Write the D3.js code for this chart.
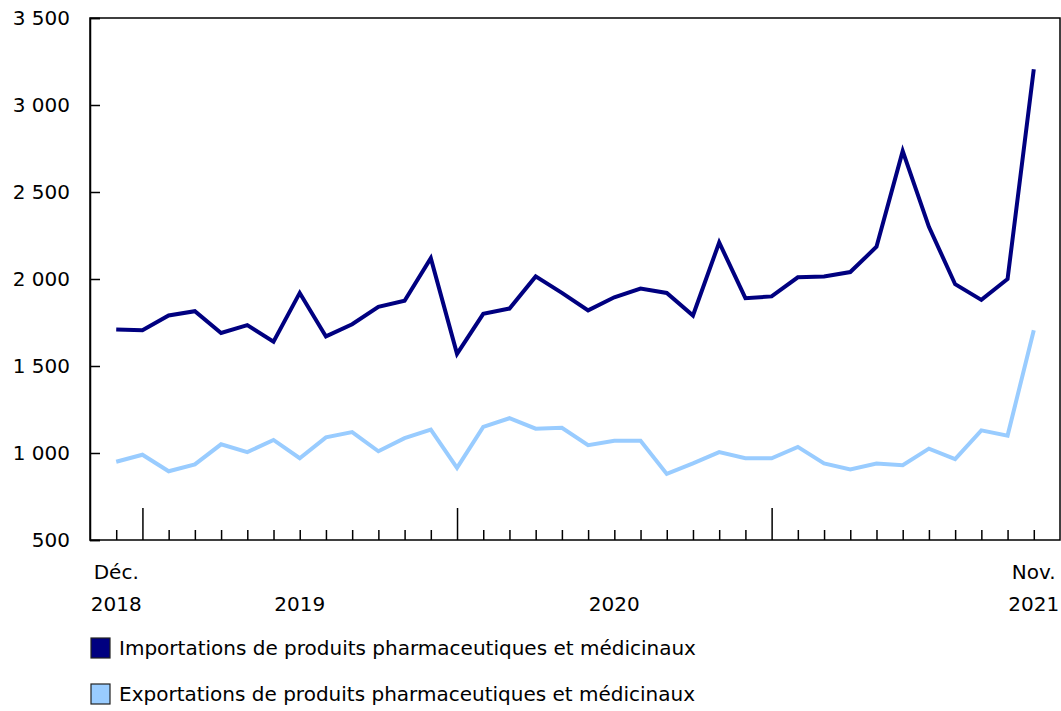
<!DOCTYPE html>
<html>
<head>
<meta charset="utf-8">
<script src="https://cdn.jsdelivr.net/npm/d3@7"></script>
<style>
	body { margin: 0; background: #fff; }
	text { font-family: "DejaVu Sans", Verdana, sans-serif; fill: #000; }
</style>
</head>
<body>
<div id="visHolder"></div>
<script>
const months = [
	"2018-12", "2019-01", "2019-02", "2019-03", "2019-04", "2019-05", "2019-06",
	"2019-07", "2019-08", "2019-09", "2019-10", "2019-11", "2019-12",
	"2020-01", "2020-02", "2020-03", "2020-04", "2020-05", "2020-06",
	"2020-07", "2020-08", "2020-09", "2020-10", "2020-11", "2020-12",
	"2021-01", "2021-02", "2021-03", "2021-04", "2021-05", "2021-06",
	"2021-07", "2021-08", "2021-09", "2021-10", "2021-11",
];
const imports = [
	1710, 1705, 1790, 1815, 1690, 1735, 1640, 1920, 1670, 1740, 1840, 1875, 2120,
	1570, 1800, 1830, 2015, 1920, 1820, 1895, 1945, 1920, 1790, 2210, 1890,
	1900, 2010, 2015, 2040, 2185, 2735, 2300, 1970, 1880, 2000, 3205,
];
const exports = [
	950, 990, 895, 935, 1050, 1005, 1075, 970, 1090, 1120, 1010, 1085, 1135,
	915, 1150, 1200, 1140, 1145, 1045, 1070, 1070, 880, 940, 1005, 970,
	970, 1035, 940, 905, 940, 930, 1025, 965, 1130, 1100, 1705,
];
const yTicks = [500, 1000, 1500, 2000, 2500, 3000, 3500];
const seriesNames = [
	"Importations de produits pharmaceutiques et médicinaux",
	"Exportations de produits pharmaceutiques et médicinaux",
];
const seriesColors = ["#000080", "#99ccff"];
// label rows under the x axis, centred between two months
const xLabels = [
	{ lines: ["Déc.", "2018"], from: "2018-12", to: "2018-12" },
	{ lines: ["", "2019"], from: "2019-01", to: "2020-01" },
	{ lines: ["", "2020"], from: "2020-01", to: "2021-01" },
	{ lines: ["Nov.", "2021"], from: "2021-11", to: "2021-11" },
];

const options = {
	width: 1061,
	height: 711,
	plot: { left: 90, top: 18, right: 1060, bottom: 540 },
	fontSize: 20,
	lineWidth: 4,
};

LineChart(options);

function LineChart({ width, height, plot, fontSize, lineWidth }) {
	//create svg
	const svg = d3
		.select("#visHolder")
		.append("svg")
		.attr("width", width)
		.attr("height", height)
		.style("font-size", `${fontSize}px`);

	//scales
	const x = d3.scalePoint().domain(months).range([plot.left, plot.right]).padding(1);
	const y = d3.scaleLinear().domain([500, 3500]).range([plot.bottom, plot.top]);

	//frame
	svg
		.append("rect")
		.attr("x", plot.left)
		.attr("y", plot.top)
		.attr("width", plot.right - plot.left)
		.attr("height", plot.bottom - plot.top)
		.attr("fill", "none")
		.attr("stroke", "#000")
		.attr("stroke-width", 1.5);

	//y axis
	const yAxis = svg
		.append("g")
		.attr("transform", `translate(${plot.left},0)`)
		.call(d3.axisRight(y).tickValues(yTicks).tickSize(10).tickFormat((d) => d3.format(",")(d).replace(",", " ")));
	yAxis.select(".domain").attr("stroke-width", 1.5);
	yAxis.selectAll(".tick line").attr("stroke-width", 1.5);
	yAxis
		.selectAll(".tick text")
		.attr("x", -20)
		.attr("text-anchor", "end")
		.attr("font-size", fontSize)
		.attr("font-family", null);

	//x axis ticks (major on January)
	const xAxis = svg
		.append("g")
		.attr("transform", `translate(0,${plot.bottom})`)
		.call(d3.axisTop(x).tickSize(10).tickFormat(""));
	xAxis.select(".domain").remove();
	xAxis
		.selectAll(".tick line")
		.attr("stroke-width", 1.5)
		.attr("y2", (d) => (d.endsWith("-01") ? -32 : -10));

	//x labels
	const labels = svg
		.append("g")
		.selectAll("text")
		.data(xLabels)
		.join("text")
		.attr("text-anchor", "middle")
		.attr("transform", (d) => `translate(${(x(d.from) + x(d.to)) / 2},0)`);
	labels
		.append("tspan")
		.attr("x", 0)
		.attr("y", 579)
		.text((d) => d.lines[0]);
	labels
		.append("tspan")
		.attr("x", 0)
		.attr("y", 611)
		.text((d) => d.lines[1]);

	//lines
	const line = d3
		.line()
		.x((_d, i) => x(months[i]))
		.y((d) => y(d));
	svg
		.append("g")
		.selectAll("path")
		.data([imports, exports])
		.join("path")
		.attr("fill", "none")
		.attr("stroke", (_d, i) => seriesColors[i])
		.attr("stroke-width", lineWidth)
		.attr("stroke-linejoin", "miter")
		.attr("d", line);

	//legend
	const legend = svg
		.append("g")
		.selectAll("g")
		.data(seriesNames)
		.join("g")
		.attr("transform", (_d, i) => `translate(91,${638 + i * 46})`);
	legend
		.append("rect")
		.attr("width", 19)
		.attr("height", 20)
		.attr("fill", (_d, i) => seriesColors[i])
		.attr("stroke", "#222")
		.attr("stroke-width", 1.2);
	legend
		.append("text")
		.attr("x", 28)
		.attr("y", 17)
		.text((d) => d);
}
</script>
</body>
</html>
